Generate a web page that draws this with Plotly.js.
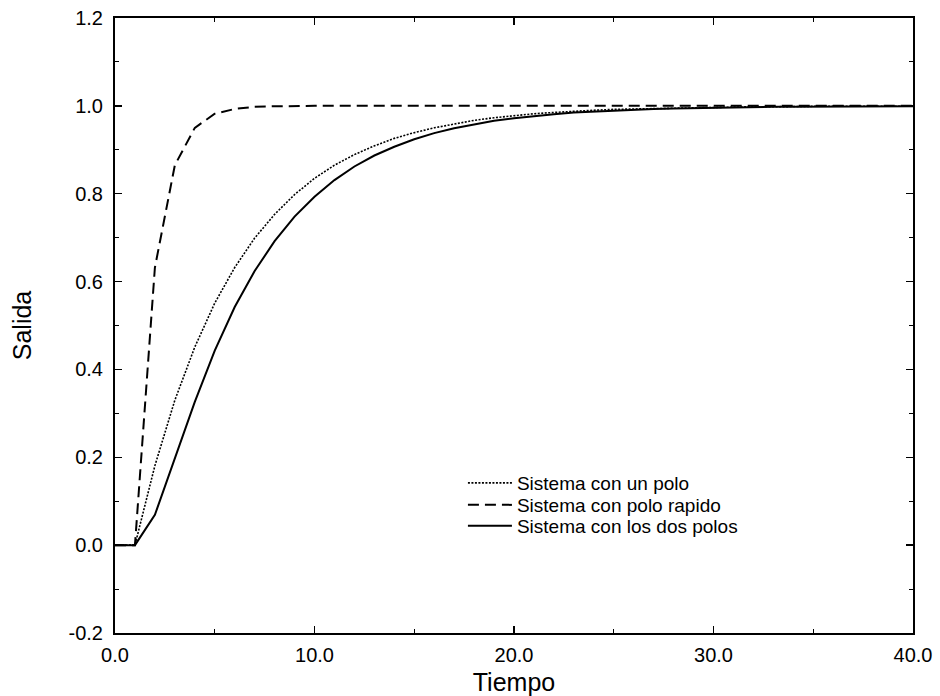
<!DOCTYPE html>
<html>
<head>
<meta charset="utf-8">
<script src="https://cdn.plot.ly/plotly-3.0.1.min.js"></script>
<style>html,body{margin:0;padding:0;background:#fff;}#chart{width:940px;height:696px;}</style>
</head>
<body>
<div id="chart"></div>
<script>
// Time samples (s)
const tiempo = [0,1,2,3,4,5,6,7,8,9,10,11,12,13,14,15,16,17,18,19,20,21,22,23,24,25,26,27,28,29,30,31,32,33,34,35,36,37,38,39,40];

// Sistema con un polo (dotted)
const unPolo = [0,0,0.181,0.330,0.451,0.551,0.632,0.699,0.753,0.798,0.835,0.865,0.889,0.909,0.926,0.939,0.950,0.959,0.967,0.973,0.978,0.982,0.985,0.988,0.990,0.992,0.993,0.994,0.995,0.996,0.997,0.998,0.998,0.998,0.999,0.999,0.999,0.999,0.999,0.999,0.999];

// Sistema con polo rapido (dashed)
const poloRapido = [0,0,0.632,0.865,0.950,0.982,0.993,0.998,0.999,1.0,1.0,1.0,1.0,1.0,1.0,1.0,1.0,1.0,1.0,1.0,1.0,1.0,1.0,1.0,1.0,1.0,1.0,1.0,1.0,1.0,1.0,1.0,1.0,1.0,1.0,1.0,1.0,1.0,1.0,1.0,1.0];

// Sistema con los dos polos (solid)
const dosPolos = [0,0,0.069,0.196,0.326,0.443,0.542,0.624,0.692,0.748,0.793,0.831,0.862,0.887,0.907,0.924,0.938,0.949,0.958,0.966,0.972,0.977,0.981,0.985,0.987,0.990,0.992,0.993,0.994,0.995,0.996,0.997,0.997,0.998,0.998,0.998,0.999,0.999,0.999,0.999,0.999];

const nombres = ["Sistema con un polo", "Sistema con polo rapido", "Sistema con los dos polos"];

const xTickVals = [0,10,20,30,40];
const xTickText = ["0.0","10.0","20.0","30.0","40.0"];
const yTickVals = [-0.2,0,0.2,0.4,0.6,0.8,1.0,1.2];
const yTickText = ["-0.2","0.0","0.2","0.4","0.6","0.8","1.0","1.2"];

const FONT = "Liberation Sans, Arial, Helvetica, sans-serif";

const traces = [
  {x: tiempo, y: unPolo, name: nombres[0], legend: "legend", mode: "lines", line: {color: "#000", width: 1.6, dash: "2px,1.5px"}},
  {x: tiempo, y: poloRapido, name: nombres[1], legend: "legend2", mode: "lines", line: {color: "#000", width: 2, dash: "11px,6px"}},
  {x: tiempo, y: dosPolos, name: nombres[2], legend: "legend3", mode: "lines", line: {color: "#000", width: 2}}
];

const axisCommon = {
  showgrid: false, zeroline: false, showline: true, linecolor: "#000", linewidth: 2,
  mirror: "ticks", ticks: "inside", ticklen: 7, tickwidth: 1.5, tickcolor: "#000",
  tickfont: {family: FONT, size: 20, color: "#000"}
};

function legendAt(yPaper) {
  return {x: 0.436, y: yPaper, xanchor: "left", yanchor: "middle", bgcolor: "rgba(0,0,0,0)",
          itemwidth: 44, tracegroupgap: 0,
          font: {family: FONT, size: 19, color: "#000"}};
}

const layout = {
  width: 940, height: 696,
  margin: {l: 115, r: 27, t: 18, b: 63},
  paper_bgcolor: "#fff", plot_bgcolor: "#fff",
  font: {family: FONT, color: "#000"},
  showlegend: true,
  legend: legendAt(0.2439),
  legend2: legendAt(0.2081),
  legend3: legendAt(0.1740),
  xaxis: Object.assign({}, axisCommon, {
    range: [0, 40], tickvals: xTickVals, ticktext: xTickText,
    minor: {dtick: 5, tick0: 0, ticks: "inside", ticklen: 4, tickcolor: "#000", tickwidth: 1},
    ticklabelstandoff: 3,
    title: {text: "Tiempo", font: {family: FONT, size: 25, color: "#000"}, standoff: 8}
  }),
  yaxis: Object.assign({}, axisCommon, {
    range: [-0.2, 1.2], tickvals: yTickVals, ticktext: yTickText,
    minor: {dtick: 0.1, tick0: 0, ticks: "inside", ticklen: 4, tickcolor: "#000", tickwidth: 1},
    ticklabelstandoff: 6,
    title: {text: "Salida", font: {family: FONT, size: 25, color: "#000"}, standoff: 30}
  })
};

Plotly.newPlot("chart", traces, layout, {displayModeBar: false, staticPlot: true});
</script>
</body>
</html>
